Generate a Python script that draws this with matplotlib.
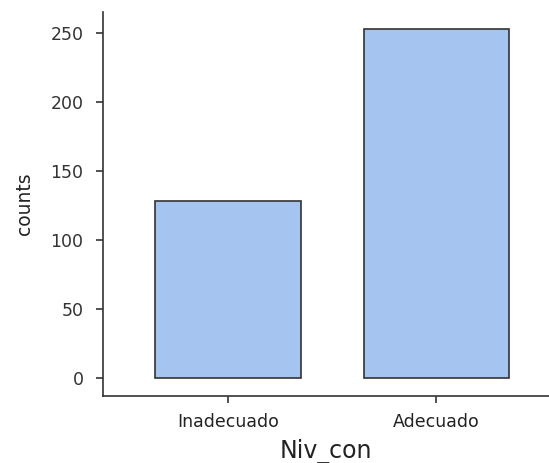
import matplotlib.pyplot as plt

categories = ['Inadecuado', 'Adecuado']
counts = [128, 253]
yticks = [0, 50, 100, 150, 200, 250]

plt.rcParams['font.family'] = ['DejaVu Sans']

fig = plt.figure(figsize=(5.49, 4.63), dpi=100)
ax = fig.add_axes([0.1876, 0.1447, 0.8124, 0.8293])

ax.bar(range(len(categories)), counts, width=0.7,
       color='#a6c4f0', edgecolor='#333333', linewidth=1.2)

ax.set_xlim(-0.6, 1.54)
ax.set_ylim(-13, 265)
ax.set_xticks(range(len(categories)))
ax.set_xticklabels(categories)
ax.set_yticks(yticks)

ax.spines['top'].set_visible(False)
ax.spines['right'].set_visible(False)
for s in ['left', 'bottom']:
    ax.spines[s].set_linewidth(1.2)
    ax.spines[s].set_color('#333333')

ax.tick_params(axis='both', colors='#333333', length=5, width=1.2)
ax.tick_params(axis='x', labelcolor='#222222', labelsize=12.5, pad=7)
ax.tick_params(axis='y', labelsize=12.5, pad=9)

ax.set_xlabel('Niv_con', fontsize=17, color='#222222', labelpad=6)
ax.set_ylabel('counts', fontsize=13.5, color='#222222', labelpad=12)

fig.savefig('out.png', dpi=100)
